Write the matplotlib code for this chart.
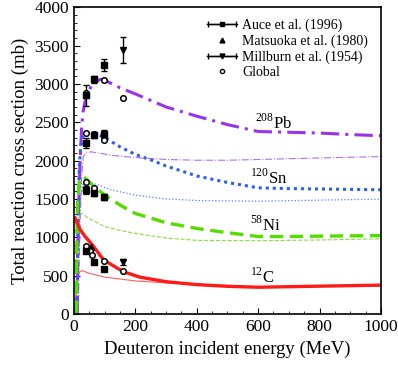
import matplotlib
matplotlib.use('Agg')
import matplotlib.pyplot as plt
import numpy as np
from matplotlib.ticker import MultipleLocator
from matplotlib.legend_handler import HandlerErrorbar
from matplotlib.container import ErrorbarContainer

plt.rcParams['font.family'] = ['Liberation Serif', 'DejaVu Serif']
plt.rcParams['mathtext.fontset'] = 'custom'
plt.rcParams['mathtext.rm'] = 'Liberation Serif'

# ---- model curves (Global: thick, other model: thin) ----
pb_e = [10, 12, 15, 20, 25, 30, 40, 60, 85, 100, 150, 200, 300, 400, 500, 600, 700, 800, 900, 1000]
pb_s = [0, 700, 1400, 2000, 2450, 2650, 2850, 3000, 3060, 3050, 2950, 2870, 2700, 2580, 2470, 2380, 2370, 2360, 2340, 2325]
pb_thin_e = [14, 17, 20, 25, 30, 40, 55, 80, 120, 200, 300, 400, 500, 600, 800, 1000]
pb_thin_s = [0, 700, 1200, 1800, 2050, 2100, 2115, 2100, 2070, 2040, 2015, 2005, 2005, 2015, 2035, 2053]

sn_e = [9, 11, 13, 17, 22, 30, 50, 70, 100, 150, 200, 250, 300, 400, 500, 600, 700, 800, 900, 1000]
sn_s = [0, 600, 1200, 1900, 2200, 2330, 2370, 2360, 2300, 2180, 2080, 2010, 1930, 1800, 1715, 1645, 1635, 1630, 1625, 1620]
sn_thin_e = [11, 13, 15, 20, 30, 50, 80, 120, 200, 300, 400, 600, 800, 1000]
sn_thin_s = [0, 500, 900, 1500, 1700, 1720, 1680, 1620, 1550, 1500, 1480, 1470, 1485, 1497]

ni_e = [7, 9, 12, 18, 30, 40, 60, 100, 150, 200, 300, 400, 500, 600, 700, 800, 1000]
ni_s = [0, 900, 1500, 1750, 1790, 1760, 1680, 1550, 1420, 1310, 1190, 1115, 1060, 1010, 1010, 1015, 1022]
ni_thin_e = [7, 10, 15, 20, 30, 50, 100, 150, 200, 300, 400, 600, 800, 1000]
ni_thin_s = [0, 800, 1250, 1315, 1300, 1240, 1140, 1090, 1050, 990, 960, 955, 965, 979]

c_e = [4, 10, 20, 36, 60, 96, 160, 215, 300, 400, 500, 600, 700, 800, 1000]
c_s = [1250, 1190, 1100, 1010, 900, 705, 552, 479, 420, 382, 360, 348, 355, 362, 375]
c_thin_e = [3, 8, 15, 25, 50, 100, 200, 300, 400, 600, 800, 1000]
c_thin_s = [0, 400, 540, 565, 530, 480, 430, 405, 390, 350, 362, 375]

# ---- experimental data ----
auce_e = [38, 65, 97]
auce_pb = [2850, 3060, 3250]
auce_pb_err = [140, 50, 80]
auce_sn = [2230, 2337, 2346]
auce_sn_err = [60, 40, 50]
auce_ni = [1615, 1575, 1531]
auce_ni_err = [50, 40, 40]
auce_c = [826, 679, 583]

mats_e = [56]
mats_c = [870]

mill_e = [159, 159]
mill_s = [3440, 675]
mill_err = [170, 35]

glob_e = [38, 65, 97, 159]
glob_pb = [2880, 3070, 3046, 2820]
glob_sn = [2359, 2350, 2271]
glob_ni = [1720, 1643, 1530]
glob_c_e = [38, 52, 60, 97, 159]
glob_c = [888, 826, 774, 688, 566]

labels = ['$^{208}$Pb', '$^{120}$Sn', '$^{58}$Ni', '$^{12}$C']
label_e = [649, 633, 623, 613]
label_s = [2493, 1775, 1153, 487]

fig = plt.figure(figsize=(3.98, 3.68), dpi=100)
ax = fig.add_axes([0.186, 0.147, 0.771, 0.833])

# thin curves
ax.plot(pb_thin_e, pb_thin_s, color='#b070f0', lw=0.8, ls='-.')
ax.plot(sn_thin_e, sn_thin_s, color='#5080ff', lw=0.9, ls=':')
ax.plot(ni_thin_e, ni_thin_s, color='#88e040', lw=0.8, ls='--')
ax.plot(c_thin_e, c_thin_s, color='#ff6060', lw=0.8, ls='-')

# thick curves
ax.plot(pb_e, pb_s, color='#9933ee', lw=2.2, ls=(0, (6, 2, 1, 2)))
ax.plot(sn_e, sn_s, color='#2f5df5', lw=2.2, ls=(0, (1, 1.3)))
ax.plot(ni_e, ni_s, color='#55dd00', lw=2.4, ls=(0, (4, 2)))
ax.plot(c_e, c_s, color='#ff1a1a', lw=2.4, ls='-')

# data
ms = 4
for s, err in [(auce_pb, auce_pb_err), (auce_sn, auce_sn_err), (auce_ni, auce_ni_err), (auce_c, [0, 0, 0])]:
    ax.errorbar(auce_e, s, yerr=err, fmt='s', color='k', ms=ms, capsize=2, elinewidth=1)
ax.plot(mats_e, mats_c, '^', color='k', ms=ms + 1)
ax.errorbar(mill_e, mill_s, yerr=mill_err, fmt='v', color='k', ms=ms + 1, capsize=2, elinewidth=1)
ax.plot(glob_e, glob_pb, 'o', mfc='white', mec='k', mew=1.1, ms=ms)
ax.plot(glob_e[:3], glob_sn, 'o', mfc='white', mec='k', mew=1.1, ms=ms)
ax.plot(glob_e[:3], glob_ni, 'o', mfc='white', mec='k', mew=1.1, ms=ms)
ax.plot(glob_c_e, glob_c, 'o', mfc='white', mec='k', mew=1.1, ms=ms)

for lab, x, y in zip(labels, label_e, label_s):
    ax.text(x, y, lab, fontsize=12, ha='center', va='center')

# legend handles
h_auce = ax.errorbar([np.nan], [np.nan], xerr=[1], fmt='s-', color='k', ms=3.5, capsize=2, lw=1)
h_mats, = ax.plot([np.nan], [np.nan], '^', color='k', ms=3.5)
h_mill = ax.errorbar([np.nan], [np.nan], xerr=[1], fmt='v-', color='k', ms=3.5, capsize=2, lw=1)
h_glob, = ax.plot([np.nan], [np.nan], 'o', mfc='white', mec='k', mew=1, ms=3)
ax.legend([h_auce, h_mats, h_mill, h_glob],
          ['Auce et al. (1996)', 'Matsuoka et al. (1980)', 'Millburn et al. (1954)', 'Global'],
          loc='upper right', frameon=False, fontsize=10, numpoints=1,
          handlelength=2.15, handletextpad=0.36, labelspacing=0.17,
          bbox_to_anchor=(0.99, 0.995), borderaxespad=0.3,
          handler_map={ErrorbarContainer: HandlerErrorbar(xerr_size=1.0)})

ax.set_xlim(0, 1000)
ax.set_ylim(0, 4000)
ax.xaxis.set_major_locator(MultipleLocator(200))
ax.xaxis.set_minor_locator(MultipleLocator(50))
ax.yaxis.set_major_locator(MultipleLocator(500))
ax.yaxis.set_minor_locator(MultipleLocator(100))
ax.tick_params(which='both', direction='in', top=False, right=False, labelsize=12.5)
ax.tick_params(which='major', length=4)
ax.tick_params(which='minor', length=2)
for sp in ax.spines.values():
    sp.set_linewidth(1.2)

ax.set_xlabel('Deuteron incident energy (MeV)', fontsize=13.5)
ax.set_ylabel('Total reaction cross section (mb)', fontsize=13.5)

fig.savefig('out.png', dpi=100)
